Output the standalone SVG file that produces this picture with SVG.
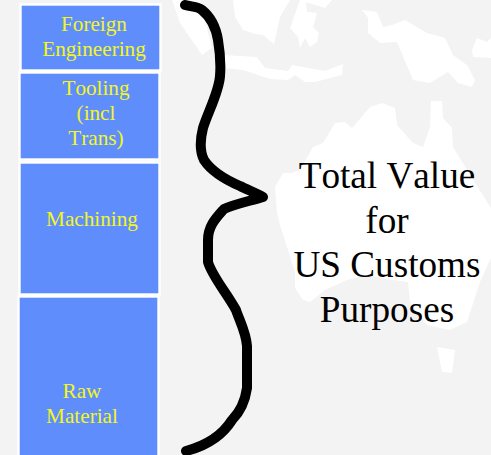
<svg xmlns="http://www.w3.org/2000/svg" width="491" height="455" viewBox="0 0 491 455">
  <style>
    .land { fill: #ffffff; stroke: none; }
    .box { fill: #5f8efc; stroke: #ffffff; stroke-width: 2.4; }
    .lbl { font-family: "Liberation Serif", "Times New Roman", serif; font-size: 21.2px; font-kerning: none; fill: #f4f61e; text-anchor: middle; }
    .big { font-family: "Liberation Serif", "Times New Roman", serif; font-size: 37.2px; font-kerning: none; fill: #000000; text-anchor: middle; }
    .brace { fill: none; stroke: #000000; stroke-width: 10; stroke-linecap: round; stroke-linejoin: round; }
  </style>
  <rect width="491" height="455" fill="#f3f3f3"/>
  <g id="map">
    <polygon class="land" points="172,0 180,23 202,55 212,48 200,0"/>
    <polygon class="land" points="233,0 235,17 243,30 255,34 263,35 274,44 280,17 290,0"/>
    <polygon class="land" points="300,0 290,28 298,37 300,48 305,38 310,47 317,42 319,33 313,27 317,13 307,12 306,2 325,8 332,0"/>
    <polygon class="land" points="223,55 257,57 265,68 288,71 292,65 325,71 343,64 342,75 315,82 305,82 295,75 288,80 270,79 243,70 225,68"/>
    <polygon class="land" points="362,10 377,12 383,27 392,25 405,20 427,33 445,38 453,55 467,65 475,80 472,87 458,83 448,72 430,83 413,80 397,42 380,43 368,33 368,18"/>
    <polygon class="land" points="472,50 477,38 487,42 491,38 491,58 473,57"/>
    <polygon class="land" points="275,187 283,173 292,173 300,170 313,147 323,143 335,123 345,122 352,128 370,107 382,103 395,108 397,125 413,143 423,147 430,127 431,101 442,101 443,118 452,128 453,147 467,170 491,208 491,258 480,282 467,322 450,330 427,325 410,302 408,282 393,280 367,275 347,280 325,290 310,302 303,300 295,288 295,272 280,225 277,213"/>
    <polygon class="land" points="437,347 455,350 452,373 442,372"/>
  </g>
  <g id="foreign-engineering">
    <rect class="box" x="20.5" y="4.5" width="140" height="66"/>
    <text class="lbl" x="94" y="31">Foreign</text>
    <text class="lbl" x="94" y="56">Engineering</text>
  </g>
  <g id="tooling">
    <rect class="box" x="19.5" y="72.5" width="140" height="87"/>
    <text class="lbl" x="96" y="95">Tooling</text>
    <text class="lbl" x="96" y="120">(incl</text>
    <text class="lbl" x="96" y="145">Trans)</text>
  </g>
  <g id="machining">
    <rect class="box" x="19.5" y="162.5" width="140" height="132"/>
    <text class="lbl" x="92" y="226">Machining</text>
  </g>
  <g id="raw-material">
    <rect class="box" x="18.5" y="296.5" width="140" height="165"/>
    <text class="lbl" x="82" y="398">Raw</text>
    <text class="lbl" x="82" y="423">Material</text>
  </g>
  <g id="connectors">
    <path class="brace" d="M185,5 C192,7 197,6 202,10 C212,18 216,28 218,40 C220,52 221,64 220,76 C219,92 208,112 203,128 C200,140 200,152 204,160 C212,172 226,180 240,186 C248,190 256,193 263,197 C250,201 235,204 224,209 C216,218 208,226 208,240 L208,262 C212,276 226,292 236,310 C240,322 246,332 247,346 L247,388 C245,402 240,412 232,420 C222,436 205,446 186,451"/>
  </g>
  <g id="total-value">
    <text class="big" x="387" y="188">Total Value</text>
    <text class="big" x="387" y="233">for</text>
    <text class="big" x="387" y="277">US Customs</text>
    <text class="big" x="387" y="322">Purposes</text>
  </g>
</svg>
